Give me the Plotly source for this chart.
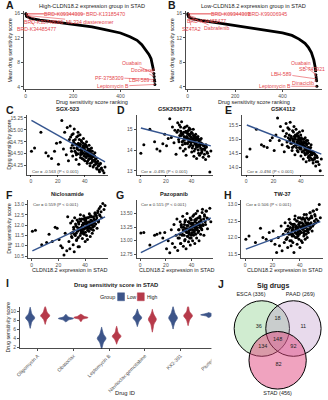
import plotly.graph_objects as go

W, H = 328, 400
FONT = "Liberation Sans"
RED = "#E5484D"
LOW = "#3D5589"
HIGH = "#B63A4A"
FITC = "#35558F"
DARK = "#1a1a1a"

# ---------------- A / B : ranked mean drug sensitivity ----------------
rank_high = [1, 5, 20, 60, 120, 200, 280, 330, 400, 440, 470, 490, 508, 520, 529, 536, 540]
score_high = [15.9, 15.5, 15.2, 14.9, 14.6, 14.2, 13.8, 13.4, 12.8, 12.2, 11.6, 10.9, 10.0, 9.3, 8.6, 7.6, 6.6]
lab_high_names = ["BRD-K09344309", "BRD-K13185470", "BRD-K30748066", "ML334 diastereomer", "BRD-K34485477",
                  "Ouabain", "Docetaxel", "PF-3758309", "LBH-589", "Leptomycin B"]
lab_high_rank = [1, 2, 3, 4, 5, 541, 542, 543, 544, 545]
lab_high_score = [15.95, 15.9, 15.75, 15.65, 15.55, 6.2, 5.7, 5.2, 4.9, 4.4]

rank_low = [1, 5, 20, 60, 120, 200, 280, 340, 400, 440, 470, 495, 510, 522, 532, 538, 540]
score_low = [15.9, 15.4, 15.1, 14.8, 14.5, 14.0, 13.6, 13.2, 12.8, 12.4, 11.8, 11.1, 10.4, 9.6, 8.4, 7.2, 6.4]
lab_low_names = ["BRD-K09344309", "BRD-K99006945", "BRD-K34485477", "SZ4TA2", "Dabrafenib",
                 "Ouabain", "SB-743921", "LBH-589", "Dinaciclib", "Leptomycin B"]
lab_low_rank = [1, 2, 3, 4, 5, 541, 542, 543, 544, 545]
lab_low_score = [15.95, 15.9, 15.7, 15.6, 15.5, 6.0, 5.6, 5.3, 5.0, 4.1]

# ---------------- C-H : CLDN18.2 expression vs drug sensitivity ----------------
cldn_expr = [0.5, 2.8, 7.5, 11.2, 13.0, 15.4, 17.6, 19.1, 20.5, 21.8,
             23.0, 24.2, 25.1, 26.3, 27.0, 27.9, 28.6, 29.2, 29.9, 30.5,
             31.1, 31.6, 32.2, 32.7, 33.1, 33.6, 34.0, 34.4, 34.9, 35.3,
             35.7, 36.1, 36.5, 36.9, 37.2, 37.6, 38.0, 38.3, 38.7, 39.0,
             39.4, 39.7, 40.1, 40.4, 40.8, 41.1, 41.5, 41.8, 42.2, 42.5,
             42.9, 43.2, 43.6, 43.9, 44.3, 44.6, 45.0, 45.4, 45.8, 46.2,
             46.6, 47.0, 47.5, 48.0, 48.5, 49.0, 49.6, 50.2, 50.9, 51.6,
             52.4, 53.3, 54.2, 55.0, 30.8, 33.4, 35.0, 36.7, 38.5, 40.0,
             41.3, 42.7, 44.0, 45.6, 47.2, 34.2, 37.8, 39.9, 43.0, 46.0,
             29.5, 30.2, 31.4, 32.0, 32.9, 33.8, 34.6, 35.1, 35.5, 36.3,
             36.8, 37.4, 37.9, 38.2, 38.9, 39.2, 39.6, 40.3, 40.6, 41.0,
             41.6, 42.0, 42.4, 42.8, 43.3, 43.8, 44.2, 44.8, 45.2, 45.7,
             46.4, 46.9, 47.4, 48.2, 48.8, 49.4, 50.0, 50.6, 51.2, 52.0,
             31.9, 34.8, 36.0, 37.0, 38.6, 39.8, 41.9, 43.5, 44.9, 47.8]

sens_sgx523 = [14.55, 14.62, 14.95, 14.52, 14.45, 14.40, 14.55, 14.72, 14.28, 14.74,
               15.20, 14.60, 14.95, 14.48, 15.05, 14.35, 14.80, 15.08, 14.62, 14.90,
               14.45, 14.78, 15.02, 14.55, 14.70, 14.38, 14.85, 14.60, 14.50, 14.72,
               14.28, 14.65, 14.90, 14.48, 14.58, 14.75, 14.40, 14.62, 14.52, 14.82,
               14.45, 14.60, 14.35, 14.70, 14.55, 14.42, 14.64, 14.30, 14.50, 14.58,
               14.38, 14.68, 14.46, 14.25, 14.55, 14.40, 14.62, 14.32, 14.48, 14.22,
               14.44, 14.36, 14.52, 14.28, 14.40, 14.18, 14.34, 14.25, 14.12, 14.30,
               14.20, 14.15, 14.10, 14.22, 14.68, 14.52, 14.95, 14.70, 14.66, 14.50,
               14.75, 14.45, 14.60, 14.55, 14.45, 14.62, 14.55, 14.68, 14.52, 14.35,
               14.85, 14.55, 14.92, 14.62, 14.80, 14.48, 14.70, 14.88, 14.58, 14.66,
               14.42, 14.78, 14.60, 14.50, 14.72, 14.38, 14.64, 14.56, 14.44, 14.68,
               14.52, 14.34, 14.60, 14.47, 14.40, 14.58, 14.30, 14.50, 14.42, 14.36,
               14.48, 14.26, 14.38, 14.32, 14.20, 14.30, 14.24, 14.16, 14.28, 14.18,
               14.74, 14.66, 14.80, 14.52, 14.60, 14.64, 14.48, 14.55, 14.44, 14.34]

sens_gsk2636771 = [13.85, 14.25, 15.00, 14.40, 14.05, 13.95, 14.30, 14.75, 14.20, 14.55,
                   15.50, 14.60, 15.10, 14.35, 14.95, 13.80, 14.85, 15.30, 14.50, 15.20,
                   14.10, 14.90, 15.35, 14.40, 14.75, 13.95, 15.05, 14.55, 14.30, 14.85,
                   13.75, 14.65, 15.15, 14.35, 14.55, 14.95, 14.15, 14.70, 14.40, 15.00,
                   14.25, 14.60, 13.90, 14.80, 14.50, 14.20, 14.70, 13.70, 14.45, 14.60,
                   14.05, 14.75, 14.35, 13.60, 14.50, 14.15, 14.65, 13.85, 14.40, 13.75,
                   14.30, 14.10, 14.55, 13.90, 14.25, 13.65, 14.20, 14.00, 13.55, 14.15,
                   13.85, 13.70, 12.95, 13.95, 14.70, 14.45, 15.10, 14.80, 14.75, 14.45,
                   15.00, 14.30, 14.60, 14.50, 14.35, 14.65, 14.50, 14.85, 14.55, 14.20,
                   14.95, 14.40, 15.10, 14.70, 14.25, 14.85, 14.50, 14.05, 14.90, 14.60,
                   14.30, 14.75, 14.45, 15.05, 14.20, 14.65, 14.35, 14.80, 14.10, 14.55,
                   14.40, 13.95, 14.70, 14.30, 14.50, 14.15, 14.60, 14.25, 14.00, 14.45,
                   14.20, 14.50, 13.85, 14.30, 14.05, 14.20, 13.80, 14.10, 14.25, 13.90,
                   14.80, 14.35, 14.60, 14.90, 14.50, 14.40, 14.65, 14.25, 14.55, 14.00]

sens_gsk4112 = [14.38, 14.65, 15.35, 14.80, 14.75, 14.70, 14.95, 15.05, 14.60, 15.15,
                15.75, 14.95, 15.45, 14.80, 15.30, 14.55, 15.10, 15.55, 14.90, 15.40,
                14.70, 15.15, 15.60, 14.85, 15.05, 14.60, 15.30, 14.95, 14.75, 15.10,
                14.45, 15.00, 15.35, 14.70, 14.90, 15.20, 14.55, 15.00, 14.80, 15.25,
                14.65, 14.95, 14.40, 15.05, 14.85, 14.55, 15.00, 14.30, 14.75, 14.90,
                14.50, 15.05, 14.70, 14.20, 14.80, 14.50, 14.95, 14.35, 14.70, 14.25,
                14.60, 14.45, 14.80, 14.30, 14.55, 14.15, 14.50, 14.35, 14.05, 14.40,
                14.20, 14.10, 13.88, 14.30, 15.05, 14.85, 15.45, 15.10, 15.05, 14.80,
                15.30, 14.70, 14.95, 14.85, 14.70, 15.00, 14.85, 15.15, 14.85, 14.55,
                15.20, 14.75, 15.35, 14.95, 15.10, 14.70, 15.25, 14.90, 15.05, 14.80,
                15.15, 14.60, 14.95, 15.10, 14.70, 14.85, 15.00, 14.65, 14.90, 14.55,
                14.80, 15.00, 14.60, 14.75, 14.45, 14.85, 14.60, 14.50, 14.70, 14.40,
                14.65, 14.35, 14.55, 14.45, 14.25, 14.50, 14.30, 14.45, 14.20, 14.35,
                15.00, 14.90, 15.15, 14.80, 14.95, 14.70, 14.85, 14.65, 14.60, 14.50]

sens_niclosamide = [11.70, 11.75, 11.05, 11.15, 11.55, 11.20, 11.90, 11.85, 11.30, 11.00,
                    10.90, 10.55, 11.60, 10.75, 12.40, 11.20, 10.85, 12.10, 11.45, 12.20,
                    11.05, 11.80, 12.35, 11.50, 11.95, 11.25, 12.25, 11.70, 11.40, 12.05,
                    10.95, 11.85, 12.50, 11.60, 11.90, 12.30, 11.35, 12.00, 11.65, 12.45,
                    11.55, 12.10, 11.20, 12.20, 11.85, 11.50, 12.35, 11.30, 11.95, 12.15,
                    11.70, 12.55, 12.00, 11.45, 12.25, 11.80, 12.40, 11.60, 12.10, 11.75,
                    12.30, 11.95, 12.60, 12.05, 12.45, 11.85, 12.70, 12.20, 12.50, 12.90,
                    12.35, 13.05, 12.75, 12.95, 11.65, 11.60, 12.15, 11.75, 11.80, 11.90,
                    12.05, 11.85, 12.10, 12.00, 12.20, 11.90, 11.70, 12.35, 11.90, 12.15,
                    11.60, 11.40, 11.90, 11.55, 12.05, 11.30, 11.75, 12.15, 11.85, 11.50,
                    12.20, 11.70, 12.00, 11.60, 12.30, 11.80, 12.05, 11.65, 12.25, 11.90,
                    12.10, 11.75, 12.35, 11.95, 12.15, 11.85, 12.45, 12.00, 12.20, 11.90,
                    12.40, 12.10, 12.55, 12.25, 12.35, 12.60, 12.15, 12.80, 12.45, 12.65,
                    10.70, 10.95, 12.30, 11.80, 12.10, 12.25, 12.00, 12.40, 12.05, 12.50]

sens_pazopanib = [13.14, 13.15, 12.92, 13.10, 13.12, 13.14, 13.05, 13.15, 12.85, 13.00,
                  12.78, 13.20, 12.95, 13.30, 12.88, 13.10, 13.40, 12.82, 13.20, 13.05,
                  13.35, 12.95, 13.25, 13.10, 13.45, 12.90, 13.18, 13.30, 13.02, 13.22,
                  12.85, 13.15, 13.50, 13.08, 13.28, 12.98, 13.35, 13.12, 13.20, 12.92,
                  13.40, 13.05, 13.25, 13.15, 13.00, 13.32, 13.10, 13.48, 13.18, 12.95,
                  13.28, 13.12, 13.38, 13.05, 13.22, 13.55, 13.15, 13.30, 13.00, 13.25,
                  13.42, 13.12, 13.35, 13.20, 13.58, 13.28, 13.10, 13.45, 13.30, 13.55,
                  13.22, 13.40, 13.60, 13.35, 13.12, 13.20, 13.38, 13.22, 13.05, 13.30,
                  13.20, 13.35, 13.25, 13.18, 13.28, 13.10, 13.18, 13.12, 13.22, 13.35,
                  13.05, 13.20, 12.95, 13.30, 13.12, 13.25, 13.00, 13.38, 13.18, 13.28,
                  13.08, 13.35, 13.22, 13.15, 13.42, 13.25, 13.10, 13.32, 13.20, 13.45,
                  13.28, 13.15, 13.38, 13.25, 13.50, 13.20, 13.32, 13.42, 13.18, 13.30,
                  13.45, 13.25, 13.38, 13.52, 13.30, 13.40, 13.48, 13.35, 13.55, 13.42,
                  13.28, 13.35, 13.22, 13.15, 13.32, 13.38, 13.26, 13.40, 13.30, 13.22]

sens_tw37 = [11.95, 12.05, 11.85, 12.28, 12.00, 11.95, 12.15, 11.90, 12.20, 11.80,
             11.55, 12.00, 11.75, 12.35, 11.60, 12.10, 11.85, 12.45, 11.95, 12.25,
             11.70, 12.15, 12.55, 11.90, 12.30, 11.75, 12.40, 12.05, 11.85, 12.35,
             11.55, 12.20, 12.65, 12.00, 12.25, 12.50, 11.80, 12.30, 12.05, 12.60,
             11.95, 12.35, 11.70, 12.45, 12.15, 11.90, 12.55, 11.85, 12.25, 12.40,
             12.05, 12.70, 12.20, 11.95, 12.45, 12.10, 12.60, 12.00, 12.35, 12.15,
             12.55, 12.25, 12.75, 12.30, 12.65, 12.20, 12.80, 12.40, 12.70, 12.45,
             12.85, 12.50, 13.00, 12.60, 12.00, 12.10, 12.30, 12.15, 12.25, 12.20,
             12.30, 12.15, 12.35, 12.25, 12.40, 12.20, 12.10, 12.45, 12.30, 12.45,
             12.20, 11.95, 12.35, 12.10, 12.45, 11.90, 12.25, 12.40, 12.05, 12.55,
             12.15, 12.35, 12.00, 12.50, 12.20, 12.40, 12.10, 12.60, 12.30, 12.15,
             12.45, 12.25, 12.60, 12.35, 12.10, 12.50, 12.30, 12.70, 12.40, 12.20,
             12.55, 12.35, 12.75, 12.45, 12.60, 12.35, 12.80, 12.50, 12.65, 12.55,
             12.25, 12.10, 12.40, 12.30, 12.15, 12.45, 12.35, 12.55, 12.20, 12.60]

scatter_drugs = ["SGX-523", "GSK2636771", "GSK4112", "Niclosamide", "Pazopanib", "TW-37"]
scatter_sens = [sens_sgx523, sens_gsk2636771, sens_gsk4112, sens_niclosamide, sens_pazopanib, sens_tw37]
cor_labels = ["Cor = -0.563 (P < 0.001)", "Cor = -0.495 (P < 0.001)", "Cor = -0.494 (P < 0.001)",
              "Cor = 0.559 (P < 0.001)", "Cor = 0.515 (P < 0.001)", "Cor = 0.506 (P < 0.001)"]
fit_start = [15.20, 15.05, 15.50, 10.75, 12.78, 11.65]   # fitted value at lowest expression
fit_end = [14.33, 14.20, 14.47, 12.40, 13.42, 12.48]     # fitted value at highest expression

# ---------------- I : violin ----------------
drug_ids = ["Oligomycin A", "Obatoclax", "Leptomycin B", "Navitoclax:gemcitabine", "KX2-391", "Pluripotin"]
low_scores = [
    [7.0, 7.6, 8.0, 8.2, 8.4, 8.5, 8.5, 8.6, 8.7, 8.9, 9.1, 9.5, 10.1],
    [7.9, 8.1, 8.25, 8.3, 8.35, 8.4, 8.4, 8.45, 8.5, 8.6, 8.75, 9.0],
    [2.4, 3.0, 3.4, 3.7, 3.9, 4.0, 4.0, 4.1, 4.3, 4.6, 5.0, 5.6],
    [7.3, 7.8, 8.1, 8.3, 8.4, 8.5, 8.6, 8.7, 8.8, 9.0, 9.3, 9.8],
    [7.0, 7.6, 8.0, 8.2, 8.4, 8.5, 8.6, 8.7, 8.9, 9.2, 9.6, 10.2],
    [8.8, 9.0, 9.1, 9.15, 9.2, 9.2, 9.25, 9.3, 9.4, 9.5],
]
high_scores = [
    [7.8, 8.3, 8.6, 8.8, 8.9, 9.0, 9.0, 9.1, 9.2, 9.4, 9.7, 10.0, 10.5],
    [8.0, 8.3, 8.45, 8.5, 8.55, 8.6, 8.6, 8.65, 8.7, 8.8, 8.95, 9.1],
    [3.4, 3.8, 4.1, 4.3, 4.4, 4.5, 4.5, 4.6, 4.8, 5.0, 5.4, 6.0],
    [6.3, 7.0, 7.5, 7.8, 8.0, 8.1, 8.2, 8.3, 8.5, 8.7, 9.0, 9.5],
    [7.6, 8.2, 8.5, 8.7, 8.9, 9.0, 9.0, 9.1, 9.3, 9.5, 9.9, 10.6],
    [9.1, 9.3, 9.4, 9.45, 9.5, 9.5, 9.55, 9.6, 9.7, 9.85],
]
groups = ["Low", "High"]

# ---------------- J : Venn ----------------
venn_sets = ["ESCA", "PAAD", "STAD"]
venn_totals = [336, 269, 456]
venn_regions = ["ESCA only", "ESCA&PAAD", "PAAD only", "all", "ESCA&STAD", "PAAD&STAD", "STAD only"]
venn_counts = [36, 18, 11, 148, 134, 92, 82]

# =====================================================================
def dx(a, b):
    return [a / W, b / W]


def dy(top, bottom):
    return [1 - bottom / H, 1 - top / H]


def xid(n):
    return "x" if n == 1 else f"x{n}"


def yid(n):
    return "y" if n == 1 else f"y{n}"


def axname(letter, n):
    return f"{letter}axis" if n == 1 else f"{letter}axis{n}"


def ax_style(**kw):
    d = dict(showline=True, linecolor="black", linewidth=0.7, ticks="outside",
             ticklen=2, tickwidth=0.7, tickcolor="black",
             tickfont=dict(size=5, color="#4d4d4d", family=FONT),
             showgrid=False, zeroline=False, fixedrange=True)
    d.update(kw)
    return d


fig = go.Figure()
layout = {}
annotations = []
shapes = []


def ann_px(text, x, y, size=5.5, bold=False, color=DARK, xanchor="center", yanchor="middle", angle=0):
    annotations.append(dict(text=f"<b>{text}</b>" if bold else text, x=x / W, y=1 - y / H,
                            xref="paper", yref="paper", showarrow=False,
                            font=dict(size=size, color=color, family=FONT),
                            xanchor=xanchor, yanchor=yanchor, textangle=angle, borderpad=0))


# ---- panels A and B ----
rank_panels = [
    dict(n=1, xd=(20, 158), rank=rank_high, score=score_high, names=lab_high_names,
         lr=lab_high_rank, ls=lab_high_score, title="High-CLDN18.2 expression group in STAD", letter="A", lx=1,
         offs=[(38, 0), (79, 0), (17, 7), (63, 6), (10, 13), (-22, -10), (-12, -6), (-45, -2), (-15, -1), (-42, 2)]),
    dict(n=2, xd=(184, 322), rank=rank_low, score=score_low, names=lab_low_names,
         lr=lab_low_rank, ls=lab_low_score, title="Low-CLDN18.2 expression group in STAD", letter="B", lx=165,
         offs=[(43, 0), (79, 0), (18, 6), (3, 13), (28, 12), (-15, -12), (-4, -8), (-35, -5), (-14, 2), (-42, 0)]),
]
for p in rank_panels:
    n = p["n"]
    fig.add_trace(go.Scatter(x=p["rank"], y=p["score"], mode="lines", line=dict(color="black", width=2.8),
                             xaxis=xid(n), yaxis=yid(n), showlegend=False, hoverinfo="skip"))
    fig.add_trace(go.Scatter(x=p["lr"], y=p["ls"], mode="markers", marker=dict(color="black", size=3),
                             xaxis=xid(n), yaxis=yid(n), showlegend=False, hoverinfo="skip"))
    layout[axname("x", n)] = ax_style(domain=dx(*p["xd"]), anchor=yid(n), range=[-8, 567],
                                      tickvals=[0, 200, 400])
    layout[axname("y", n)] = ax_style(domain=dy(10, 89), anchor=xid(n), range=[3.6, 16.4],
                                      tickvals=[4, 8, 12, 16])
    for name, r, s, (ox, oy) in zip(p["names"], p["lr"], p["ls"], p["offs"]):
        annotations.append(dict(x=r, y=s, xref=xid(n), yref=yid(n), text=name, showarrow=True,
                                ax=ox, ay=oy, arrowhead=0, arrowwidth=0.6, arrowcolor=RED,
                                standoff=0, startstandoff=0, borderpad=0,
                                font=dict(size=5.2, color=RED, family=FONT)))
    cx = (p["xd"][0] + p["xd"][1]) / 2
    ann_px(p["title"], cx, 5, size=5.6)
    ann_px("Drug sensitivity score ranking", cx, 102, size=5.5)
    ann_px("Mean drug sensitivity score", p["xd"][0] - 14, 50, size=5.3, angle=-90)
    ann_px(p["letter"], p["lx"], 4, size=10.5, bold=True, xanchor="left")

# ---- panels C-H ----
sc_x = [(23, 105), (134, 212), (241, 324), (24, 105), (134, 212), (240, 323)]
sc_rows = [(115, 175), (115, 175), (115, 175), (200, 259), (200, 259), (200, 259)]
sc_yr = [[14.06, 15.31], [12.82, 15.67], [13.74, 15.85], [10.40, 13.24], [12.68, 13.76], [11.38, 13.15]]
sc_tv = [[14.25, 14.5, 14.75, 15.0, 15.25], [13, 14, 15], [14.0, 14.5, 15.0, 15.5],
         [10.5, 11.0, 11.5, 12.0, 12.5, 13.0], [12.75, 13.0, 13.25, 13.5], [11.5, 12.0, 12.5, 13.0]]
sc_tt = [["14.25", "14.50", "14.75", "15.00", "15.25"], ["13", "14", "15"], ["14.0", "14.5", "15.0", "15.5"],
         ["10.5", "11.0", "11.5", "12.0", "12.5", "13.0"], ["12.75", "13.00", "13.25", "13.50"],
         ["11.5", "12.0", "12.5", "13.0"]]
letters = ["C", "D", "E", "F", "G", "H"]
letter_x = [1, 113, 223, 1, 112, 222]
xmin, xmax = min(cldn_expr), max(cldn_expr)
for k in range(6):
    n = k + 3
    fig.add_trace(go.Scatter(x=cldn_expr, y=scatter_sens[k], mode="markers",
                             marker=dict(color="black", size=3),
                             xaxis=xid(n), yaxis=yid(n), showlegend=False, hoverinfo="skip"))
    fig.add_trace(go.Scatter(x=[xmin, xmax], y=[fit_start[k], fit_end[k]], mode="lines",
                             line=dict(color=FITC, width=1.5),
                             xaxis=xid(n), yaxis=yid(n), showlegend=False, hoverinfo="skip"))
    top, bot = sc_rows[k]
    layout[axname("x", n)] = ax_style(domain=dx(*sc_x[k]), anchor=yid(n), range=[-3, 57],
                                      tickvals=[0, 20, 40])
    layout[axname("y", n)] = ax_style(domain=dy(top, bot), anchor=xid(n), range=sc_yr[k],
                                      tickvals=sc_tv[k], ticktext=sc_tt[k])
    cx = (sc_x[k][0] + sc_x[k][1]) / 2
    ann_px(scatter_drugs[k], cx, top - 6, size=5.6, bold=True)
    ann_px(letters[k], letter_x[k], top - 5, size=10.5, bold=True, xanchor="left")
    cor_y = bot - 3 if k < 3 else top + 5
    ann_px(cor_labels[k], sc_x[k][0] + 4, cor_y, size=4.3, color="#444444", xanchor="left")
    if k >= 3:
        ann_px("CLDN18.2 expression in STAD", cx + 2, 271, size=5.5)
    if k in (0, 3):
        ann_px("Drug sensitivity score", 5, (top + bot) / 2, size=5.3, angle=-90)

# ---- panel I ----
low_w = [0.25, 0.42, 0.24, 0.24, 0.24, 0.45]
high_w = [0.25, 0.40, 0.24, 0.22, 0.24, 0.50]
for i in range(len(drug_ids)):
    for vals, wd, col, off in [(low_scores[i], low_w[i], LOW, -0.21), (high_scores[i], high_w[i], HIGH, 0.21)]:
        fig.add_trace(go.Violin(y=vals, x0=i + off, width=wd, xaxis="x9", yaxis="y9",
                                fillcolor=col, line=dict(color=col, width=0.8), opacity=1,
                                points=False, box_visible=False, meanline_visible=False,
                                spanmode="soft", showlegend=False, hoverinfo="skip"))
layout["xaxis9"] = ax_style(domain=dx(16, 233), anchor="y9", range=[-0.5, 5.5], type="linear",
                            tickvals=list(range(len(drug_ids))), ticktext=drug_ids, tickangle=-45)
layout["yaxis9"] = ax_style(domain=dy(308, 350), anchor="x9", range=[1.8, 11.0],
                            tickvals=[2, 4, 6, 8, 10])
ann_px("I", 1, 284, size=10.5, bold=True, xanchor="left")
ann_px("Drug sensitivity score in STAD", 113, 286, size=5.8, bold=True)
ann_px("Drug sensitivity score", 4, 329, size=5.3, angle=-90)
ann_px("Drug ID", 122, 395, size=5.8)
# legend
ann_px("Group", 113.5, 298, size=5.5, xanchor="right")
for g, col, x0, tx in [("Low", LOW, 115, 123.5), ("High", HIGH, 135, 143.5)]:
    shapes.append(dict(type="rect", xref="paper", yref="paper", x0=x0 / W, x1=(x0 + 7) / W,
                       y0=1 - 302 / H, y1=1 - 294 / H, fillcolor=col, line=dict(color=col, width=0.5)))
    ann_px(g, tx, 298, size=5, xanchor="left")

# ---- panel J : Venn ----
layout["xaxis10"] = dict(domain=dx(210, 328), anchor="y10", range=[0, 118], visible=False, fixedrange=True)
layout["yaxis10"] = dict(domain=dy(280, 400), anchor="x10", range=[0, 120], visible=False, fixedrange=True)
venn_centers = [(51, 70), (83, 70), (67, 38)]
venn_r = [28, 28, 29]
venn_fill = ["rgba(120,200,120,0.35)", "rgba(190,150,200,0.35)", "rgba(225,71,127,0.5)"]
for (cx, cy), r, fc in zip(venn_centers, venn_r, venn_fill):
    shapes.append(dict(type="circle", xref="x10", yref="y10", x0=cx - r, x1=cx + r, y0=cy - r, y1=cy + r,
                       fillcolor=fc, line=dict(color="black", width=1), layer="below"))
region_pos_x = [48, 67, 93, 67, 52, 83, 68]
region_pos_y = [72, 80, 72, 59, 52, 52, 34]
fig.add_trace(go.Scatter(x=region_pos_x, y=region_pos_y, text=[str(c) for c in venn_counts], mode="text",
                         textfont=dict(size=5.5, color="#222222", family=FONT),
                         xaxis="x10", yaxis="y10", showlegend=False, hoverinfo="skip"))
set_lab_x = [40, 90, 67]
set_lab_y = [104, 104, 4]
fig.add_trace(go.Scatter(x=set_lab_x, y=set_lab_y,
                         text=[f"{s} ({t})" for s, t in zip(venn_sets, venn_totals)], mode="text",
                         textfont=dict(size=5.5, color="#222222", family=FONT),
                         xaxis="x10", yaxis="y10", showlegend=False, hoverinfo="skip"))
ann_px("Sig drugs", 272, 287, size=7, bold=True)
ann_px("J", 216, 285, size=10.5, bold=True, xanchor="left")

fig.update_layout(width=W, height=H, margin=dict(l=0, r=0, t=0, b=0),
                  paper_bgcolor="white", plot_bgcolor="white", showlegend=False,
                  font=dict(family=FONT, size=5.5, color=DARK),
                  annotations=annotations, shapes=shapes, **layout)
fig.write_html("out.html", config={"displayModeBar": False, "staticPlot": True},
               post_script="document.body.style.margin='0';document.body.style.padding='0';"
                           "document.body.style.overflow='hidden';")
